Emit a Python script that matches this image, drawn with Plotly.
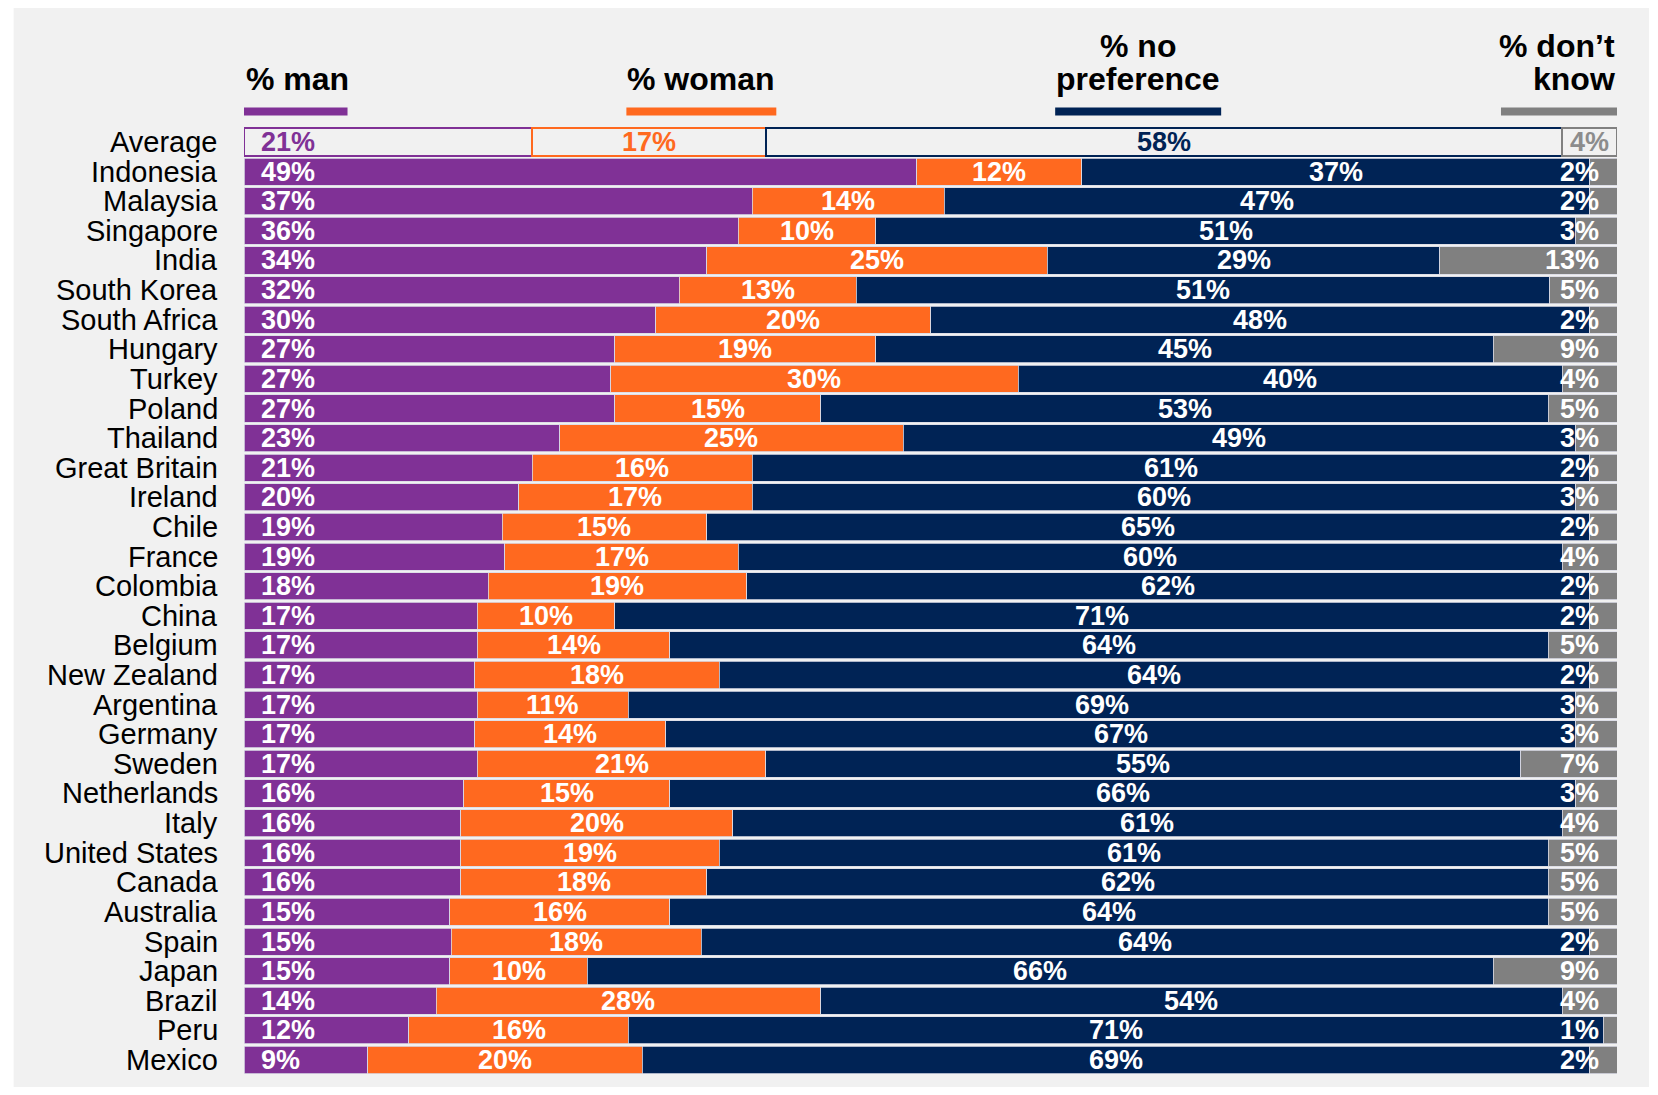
import plotly.graph_objects as go

# ---------------- data ----------------
countries = ["Indonesia", "Malaysia", "Singapore", "India", "South Korea", "South Africa",
             "Hungary", "Turkey", "Poland", "Thailand", "Great Britain", "Ireland", "Chile",
             "France", "Colombia", "China", "Belgium", "New Zealand", "Argentina", "Germany",
             "Sweden", "Netherlands", "Italy", "United States", "Canada", "Australia", "Spain",
             "Japan", "Brazil", "Peru", "Mexico"]

# shown (rounded) percentages
man_lbl = [49, 37, 36, 34, 32, 30, 27, 27, 27, 23, 21, 20, 19, 19, 18, 17, 17, 17, 17, 17,
           17, 16, 16, 16, 16, 15, 15, 15, 14, 12, 9]
woman_lbl = [12, 14, 10, 25, 13, 20, 19, 30, 15, 25, 16, 17, 15, 17, 19, 10, 14, 18, 11, 14,
             21, 15, 20, 19, 18, 16, 18, 10, 28, 16, 20]
nopref_lbl = [37, 47, 51, 29, 51, 48, 45, 40, 53, 49, 61, 60, 65, 60, 62, 71, 64, 64, 69, 67,
              55, 66, 61, 61, 62, 64, 64, 66, 54, 71, 69]
dk_lbl = [2, 2, 3, 13, 5, 2, 9, 4, 5, 3, 2, 3, 2, 4, 2, 2, 5, 2, 3, 3,
          7, 3, 4, 5, 5, 5, 2, 9, 4, 1, 2]

# unrounded bar lengths
man_val = [49.0, 37.0, 36.0, 33.7, 31.7, 30.0, 27.0, 26.7, 27.0, 23.0, 21.0, 20.0, 18.8, 19.0,
           17.8, 17.0, 17.0, 16.8, 17.0, 16.8, 17.0, 16.0, 15.8, 15.8, 15.8, 15.0, 15.1, 15.0,
           14.0, 12.0, 9.0]
woman_val = [12.0, 14.0, 10.0, 24.8, 12.9, 20.0, 19.0, 29.7, 15.0, 25.0, 16.0, 17.0, 14.9, 17.0,
             18.8, 10.0, 14.0, 17.8, 11.0, 13.9, 21.0, 15.0, 19.8, 18.8, 17.9, 16.0, 18.2, 10.0,
             28.0, 16.0, 20.0]
nopref_val = [37.0, 47.0, 51.0, 28.6, 50.5, 48.0, 45.0, 39.6, 53.0, 49.0, 61.0, 60.0, 64.3, 60.0,
              61.4, 71.0, 64.0, 63.4, 69.0, 66.3, 55.0, 66.0, 60.4, 60.4, 61.3, 64.0, 64.7, 66.0,
              54.0, 71.0, 69.0]
dk_val = [2.0, 2.0, 3.0, 12.9, 4.9, 2.0, 9.0, 4.0, 5.0, 3.0, 2.0, 3.0, 2.0, 4.0,
          2.0, 2.0, 5.0, 2.0, 3.0, 3.0, 7.0, 3.0, 4.0, 5.0, 5.0, 5.0, 2.0, 9.0,
          4.0, 1.0, 2.0]

avg_label = "Average"
avg_vals = [21, 17, 58, 4]

series_names = ["% man", "% woman", "% no preference", "% don’t know"]
colors = ["#803196", "#FF691F", "#002355", "#808080"]

# ---------------- figure ----------------
FONT = "Liberation Sans, Arial, sans-serif"
BG = "#F1F1F1"
fig = go.Figure()

vals = [man_val, woman_val, nopref_val, dk_val]

for name, v, c in zip(series_names, vals, colors):
    fig.add_trace(go.Bar(
        y=countries, x=v, orientation="h", name=name,
        marker=dict(color=c, line=dict(color="#D9DBE6", width=0.8)),
        hoverinfo="skip", showlegend=False))

for name, v, c in zip(series_names, avg_vals, colors):
    fig.add_trace(go.Bar(
        y=[avg_label], x=[v], orientation="h", name=name + " avg",
        marker=dict(color=BG, line=dict(color=c, width=2)),
        hoverinfo="skip", showlegend=False))

ann = []
# value labels for countries
for i, ctry in enumerate(countries):
    s0 = 0.0
    s1 = man_val[i]
    s2 = s1 + woman_val[i]
    s3 = s2 + nopref_val[i]
    s4 = s3 + dk_val[i]
    common = dict(y=ctry, xref="x", yref="y", showarrow=False, yanchor="middle",
                  font=dict(family=FONT, size=27, color="white", weight="bold"))
    ann.append(dict(x=s0, text=f"{man_lbl[i]}%", xanchor="left", xshift=15, **common))
    ann.append(dict(x=(s1 + s2) / 2, text=f"{woman_lbl[i]}%", xanchor="center", **common))
    ann.append(dict(x=(s2 + s3) / 2, text=f"{nopref_lbl[i]}%", xanchor="center", **common))
    ann.append(dict(x=s4, text=f"{dk_lbl[i]}%", xanchor="right", xshift=-16, **common))

# average labels
a1 = avg_vals[0]
a2 = a1 + avg_vals[1]
a3 = a2 + avg_vals[2]
a4 = a3 + avg_vals[3]
avg_pos = [(0, "left", 15), ((a1 + a2) / 2, "center", 0), ((a2 + a3) / 2, "center", 0),
           ((a3 + a4) / 2, "center", 0)]
avg_text_colors = ["#803196", "#FF691F", "#002355", "#8C8C8C"]
for (x, xa, xs), v, c in zip(avg_pos, avg_vals, avg_text_colors):
    ann.append(dict(x=x, y=avg_label, xref="x", yref="y", text=f"{v}%", xanchor=xa, xshift=xs,
                    showarrow=False, yanchor="middle",
                    font=dict(family=FONT, size=27, color=c, weight="bold")))

# category labels
for ctry in [avg_label] + countries:
    ann.append(dict(x=0, y=ctry, xref="paper", yref="y", text=ctry, xanchor="right",
                    xshift=-24, showarrow=False, yanchor="middle",
                    font=dict(family=FONT, size=29, color="black")))

# header labels
hfont = dict(family=FONT, size=32, color="black", weight="bold")
y_low = 1.0476
y_high = 1.0822
ann.append(dict(x=0, y=y_low, xref="x", yref="paper", text="% man", xanchor="left",
                yanchor="middle", showarrow=False, font=hfont))
ann.append(dict(x=33.3, y=y_low, xref="x", yref="paper", text="% woman", xanchor="center",
                yanchor="middle", showarrow=False, font=hfont))
ann.append(dict(x=65.1, y=y_high, xref="x", yref="paper", text="% no", xanchor="center",
                yanchor="middle", showarrow=False, font=hfont))
ann.append(dict(x=65.1, y=y_low, xref="x", yref="paper", text="preference", xanchor="center",
                yanchor="middle", showarrow=False, font=hfont))
ann.append(dict(x=100, y=y_high, xref="x", yref="paper", text="% don’t", xanchor="right",
                yanchor="middle", showarrow=False, font=hfont))
ann.append(dict(x=100, y=y_low, xref="x", yref="paper", text="know", xanchor="right",
                yanchor="middle", showarrow=False, font=hfont))

shapes = [
    # panel background
    dict(type="rect", xref="paper", yref="paper", x0=-0.1678, x1=1.0233, y0=-0.06, y1=1.14,
         fillcolor=BG, line=dict(width=0), layer="below"),
]
# header underline bars
for (x0, x1), c in zip([(0, 7.54), (27.85, 38.77), (59.08, 71.17), (91.55, 100)], colors):
    shapes.append(dict(type="rect", xref="x", yref="paper", x0=x0, x1=x1, y0=1.0089, y1=1.0173,
                       fillcolor=c, line=dict(width=0), layer="above"))

# page body has an 8px margin, so the figure is sized/offset to compensate
fig.update_layout(
    width=1642, height=1079,
    barmode="stack", bargap=0.085,
    paper_bgcolor="white", plot_bgcolor="rgba(0,0,0,0)",
    margin=dict(l=235.5, r=33, t=115.5, b=8.5, pad=0),
    xaxis=dict(range=[0, 100], visible=False, fixedrange=True),
    yaxis=dict(categoryorder="array", categoryarray=[avg_label] + countries,
               autorange="reversed", showticklabels=False, showgrid=False, zeroline=False,
               ticks="", fixedrange=True),
    annotations=ann, shapes=shapes,
    showlegend=False,
)

fig.write_html("out.html")
